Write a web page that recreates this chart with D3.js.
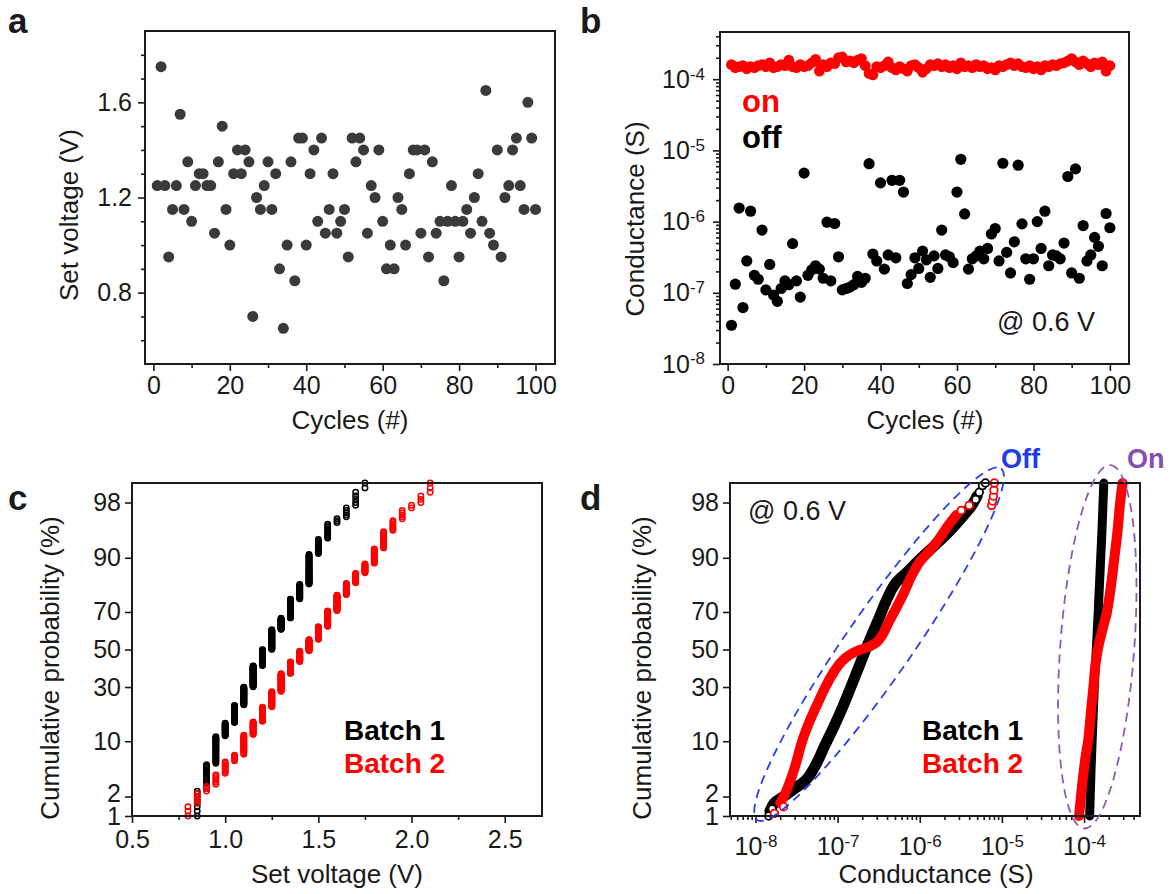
<!DOCTYPE html>
<html>
<head>
<meta charset="utf-8">
<script src="https://d3js.org/d3.v7.min.js"></script>
<style>
  body { margin: 0; background: #fff; }
  text { font-family: "Liberation Sans", Arial, Helvetica, sans-serif; fill: #1a1a1a; }
</style>
</head>
<body>
<div id="svgcontainer"></div>
<script>
// ---- panel a / b : one value per cycle ----
var cycles = d3.range(1, 101);

var setVoltage = [
  1.25, 1.75, 1.25, 0.95, 1.15, 1.25, 1.55, 1.15, 1.35, 1.10,
  1.25, 1.30, 1.30, 1.25, 1.25, 1.05, 1.35, 1.50, 1.15, 1.00,
  1.30, 1.40, 1.30, 1.40, 1.35, 0.70, 1.20, 1.15, 1.25, 1.35,
  1.15, 1.30, 0.90, 0.65, 1.00, 1.35, 0.85, 1.45, 1.45, 1.00,
  1.30, 1.40, 1.10, 1.45, 1.05, 1.15, 1.30, 1.05, 1.10, 1.15,
  0.95, 1.45, 1.35, 1.45, 1.40, 1.05, 1.25, 1.20, 1.40, 1.10,
  0.90, 1.00, 0.90, 1.20, 1.15, 1.00, 1.30, 1.40, 1.40, 1.05,
  1.40, 0.95, 1.35, 1.05, 1.10, 0.85, 1.10, 1.25, 1.10, 0.95,
  1.10, 1.15, 1.05, 1.20, 1.30, 1.10, 1.65, 1.05, 1.00, 1.40,
  0.95, 1.20, 1.25, 1.40, 1.45, 1.25, 1.15, 1.60, 1.45, 1.15];

var offConductance = [
  3.5e-8, 1.32e-7, 1.55e-6, 6.2e-8, 2.8e-7, 1.4e-6, 1.76e-7, 1.55e-7, 7.6e-7, 1.1e-7,
  2.5e-7, 9.3e-8, 7.6e-8, 1.15e-7, 1.47e-7, 1.3e-7, 4.9e-7, 1.47e-7, 8.7e-8, 4.8e-6,
  1.76e-7, 2.1e-7, 2.4e-7, 2.15e-7, 1.6e-7, 9.8e-7, 1.47e-7, 9.4e-7, 3.2e-7, 1.1e-7,
  1.15e-7, 1.2e-7, 1.3e-7, 1.7e-7, 1.4e-7, 1.6e-7, 6.5e-6, 3.5e-7, 2.8e-7, 3.5e-6,
  2.15e-7, 3.4e-7, 3.8e-6, 3.1e-7, 3.8e-6, 2.6e-6, 1.35e-7, 1.8e-7, 3.1e-7, 2.2e-7,
  3.85e-7, 2.9e-7, 1.65e-7, 3.3e-7, 2.2e-7, 7.6e-7, 3.4e-7, 3.2e-7, 2.65e-7, 2.6e-6,
  7.5e-6, 1.28e-6, 2.15e-7, 3.0e-7, 3.3e-7, 3.85e-7, 3.0e-7, 4.2e-7, 6.7e-7, 8.0e-7,
  2.8e-7, 6.6e-6, 3.7e-7, 1.9e-7, 5.2e-7, 6.2e-6, 9.3e-7, 3.0e-7, 1.55e-7, 3.0e-7,
  1.0e-6, 4.2e-7, 1.4e-6, 2.4e-7, 3.4e-7, 3.3e-7, 3.0e-7, 5.0e-7, 4.3e-6, 1.9e-7,
  5.5e-6, 1.6e-7, 8.8e-7, 2.8e-7, 3.4e-7, 6.0e-7, 4.5e-7, 2.4e-7, 1.3e-6, 8.2e-7];

var onConductance = [
  1.60e-4, 1.45e-4, 1.50e-4, 1.55e-4, 1.40e-4, 1.50e-4, 1.45e-4, 1.55e-4, 1.60e-4, 1.50e-4,
  1.70e-4, 1.45e-4, 1.50e-4, 1.60e-4, 1.55e-4, 1.85e-4, 1.50e-4, 1.45e-4, 1.60e-4, 1.50e-4,
  1.55e-4, 1.70e-4, 1.90e-4, 1.30e-4, 1.60e-4, 1.50e-4, 1.70e-4, 1.65e-4, 2.00e-4, 2.05e-4,
  1.75e-4, 1.80e-4, 1.70e-4, 1.85e-4, 1.95e-4, 1.55e-4, 1.20e-4, 1.15e-4, 1.50e-4, 1.45e-4,
  1.55e-4, 1.75e-4, 1.45e-4, 1.35e-4, 1.50e-4, 1.40e-4, 1.30e-4, 1.55e-4, 1.60e-4, 1.45e-4,
  1.25e-4, 1.40e-4, 1.60e-4, 1.55e-4, 1.65e-4, 1.50e-4, 1.60e-4, 1.45e-4, 1.55e-4, 1.40e-4,
  1.70e-4, 1.50e-4, 1.55e-4, 1.45e-4, 1.60e-4, 1.50e-4, 1.55e-4, 1.40e-4, 1.45e-4, 1.35e-4,
  1.55e-4, 1.50e-4, 1.60e-4, 1.70e-4, 1.55e-4, 1.65e-4, 1.50e-4, 1.45e-4, 1.55e-4, 1.40e-4,
  1.50e-4, 1.35e-4, 1.55e-4, 1.50e-4, 1.60e-4, 1.55e-4, 1.65e-4, 1.70e-4, 1.80e-4, 1.95e-4,
  1.75e-4, 1.60e-4, 1.80e-4, 1.65e-4, 1.50e-4, 1.70e-4, 1.60e-4, 1.75e-4, 1.30e-4, 1.55e-4];

// ---- panel c : how many cycles set at each voltage step ----
var voltLevels = [0.80, 0.85, 0.90, 0.95, 1.00, 1.05, 1.10, 1.15, 1.20, 1.25, 1.30, 1.35, 1.40,
                  1.45, 1.50, 1.55, 1.60, 1.65, 1.70, 1.75, 1.80, 1.85, 1.90, 1.95, 2.00, 2.05, 2.10];
var batch1Counts = [0, 12, 15, 29, 20, 33, 41, 55, 45, 55, 30, 45, 30, 45, 15, 11, 3, 5, 5, 6, 0, 0, 0, 0, 0, 0, 0];
var batch2Counts = [7, 4, 3, 6, 9, 6, 23, 20, 27, 34, 45, 32, 30, 32, 35, 40, 36, 23, 17, 14, 18, 15, 7, 5, 2, 3, 7];

// ---- panel d : cumulative curves, [conductance (S), cumulative %] ----
var b1Off = [[1.5e-8, 1.2], [1.7e-8, 1.6], [2.2e-8, 2.0], [3.0e-8, 2.6], [4.2e-8, 3.5], [5.5e-8, 5.5],
  [7.0e-8, 9], [9.0e-8, 14], [1.15e-7, 21], [1.45e-7, 30], [1.8e-7, 40], [2.2e-7, 50], [2.6e-7, 58],
  [3.2e-7, 67], [4.0e-7, 76], [5.0e-7, 82], [7.0e-7, 86], [1.05e-6, 90], [1.6e-6, 93], [2.4e-6, 95.3],
  [3.3e-6, 96.8], [4.3e-6, 97.8], [5.0e-6, 98.4]];
var b2Off = [[2.0e-8, 1.6], [2.3e-8, 2.2], [2.7e-8, 3.5], [3.1e-8, 5.5], [3.7e-8, 10], [4.6e-8, 16],
  [5.8e-8, 23], [7.1e-8, 30], [8.8e-8, 37], [1.1e-7, 43], [1.4e-7, 47], [1.8e-7, 49.5], [2.4e-7, 51.5],
  [3.0e-7, 54], [3.5e-7, 58], [4.2e-7, 65], [5.2e-7, 72], [6.5e-7, 79], [8.0e-7, 85], [1.0e-6, 89],
  [1.3e-6, 91.5], [1.7e-6, 93.8], [2.2e-6, 95.8], [2.8e-6, 97]];
var b1On = [[1.17e-4, 1], [1.22e-4, 5], [1.28e-4, 15], [1.35e-4, 35], [1.41e-4, 50], [1.48e-4, 68],
  [1.56e-4, 85], [1.65e-4, 95], [1.74e-4, 99]];
var b2On = [[8.7e-5, 1], [9.5e-5, 3], [1.05e-4, 7], [1.12e-4, 10], [1.22e-4, 20], [1.30e-4, 30],
  [1.38e-4, 42], [1.50e-4, 52], [1.70e-4, 62], [1.90e-4, 70], [2.10e-4, 80], [2.34e-4, 90],
  [2.55e-4, 95], [2.75e-4, 98], [2.95e-4, 99]];
// single circles visible at the tails
var b1OffDots = [[1.45e-8, 1.0], [1.6e-8, 1.3], [4.8e-6, 98.2], [5.3e-6, 98.6], [5.8e-6, 98.9], [6.3e-6, 99.0]];
var b2OffDots = [[1.7e-8, 1.1], [2.2e-8, 1.4], [3.2e-6, 97.4], [4.0e-6, 97.8], [7.5e-6, 97.8],
  [7.7e-6, 98.1], [7.9e-6, 98.4], [8.0e-6, 98.7], [8.1e-6, 99.0]];
// dashed rings: end points [conductance, %]
var offRing = [[1.05e-8, 0.86], [9.75e-6, 99.43]];
var onRing = [[1.0e-4, 0.62], [2.1e-4, 99.5]];

var probTicks = [1, 2, 10, 30, 50, 70, 90, 98];

var W = 1172, H = 894;
var svg = d3.select("#svgcontainer").append("svg")
  .attr("width", W).attr("height", H);

var boxA = {l: 145, r: 555, t: 31, b: 364};
var boxB = {l: 720, r: 1129, t: 32, b: 364};
var boxC = {l: 132, r: 542, t: 483, b: 816};
var boxD = {l: 730, r: 1140, t: 483, b: 816};

// inverse normal cdf (Acklam)
function probit(p) {
  var a = [-3.969683028665376e+01, 2.209460984245205e+02, -2.759285104469687e+02, 1.383577518672690e+02, -3.066479806614716e+01, 2.506628277459239e+00];
  var b = [-5.447609879822406e+01, 1.615858368580409e+02, -1.556989798598866e+02, 6.680131188771972e+01, -1.328068155288572e+01];
  var c = [-7.784894002430293e-03, -3.223964580411365e-01, -2.400758277161838e+00, -2.549732539343734e+00, 4.374664141464968e+00, 2.938163982698783e+00];
  var d = [7.784695709041462e-03, 3.224671290700398e-01, 2.445134137142996e+00, 3.754408661907416e+00];
  var q, r;
  if (p < 0.02425) {
    q = Math.sqrt(-2 * Math.log(p));
    return (((((c[0]*q+c[1])*q+c[2])*q+c[3])*q+c[4])*q+c[5]) / ((((d[0]*q+d[1])*q+d[2])*q+d[3])*q+1);
  }
  if (p <= 1 - 0.02425) {
    q = p - 0.5; r = q * q;
    return (((((a[0]*r+a[1])*r+a[2])*r+a[3])*r+a[4])*r+a[5])*q / (((((b[0]*r+b[1])*r+b[2])*r+b[3])*r+b[4])*r+1);
  }
  q = Math.sqrt(-2 * Math.log(1 - p));
  return -(((((c[0]*q+c[1])*q+c[2])*q+c[3])*q+c[4])*q+c[5]) / ((((d[0]*q+d[1])*q+d[2])*q+d[3])*q+1);
}

function logMinor(lo, hi) {
  var out = [];
  for (var e = Math.floor(Math.log10(lo)); e <= Math.ceil(Math.log10(hi)); e++) {
    for (var m = 2; m <= 9; m++) {
      var v = m * Math.pow(10, e);
      if (v >= lo && v <= hi) out.push(v);
    }
  }
  return out;
}

function supText(sel) {
  sel.each(function (d) {
    var t = d3.select(this);
    t.text("10");
    t.append("tspan").attr("dy", "-0.48em").attr("font-size", "17px")
      .text(Math.round(Math.log10(d)));
  });
}

function frame(box) {
  svg.append("rect")
    .attr("x", box.l).attr("y", box.t)
    .attr("width", box.r - box.l).attr("height", box.b - box.t)
    .attr("fill", "none").attr("stroke", "#1a1a1a").attr("stroke-width", 2);
}

function styleAxis(s) {
  s.select(".domain").remove();
  s.style("color", "#1a1a1a").attr("font-size", 25);
  s.selectAll("line").attr("stroke-width", 1.6);
}

function xAxis(box, x, major, minor, fmt, pad) {
  var g = svg.append("g").attr("transform", "translate(0," + box.b + ")")
    .call(d3.axisBottom(x).tickValues(minor).tickSize(4).tickFormat(""));
  var m = svg.append("g").attr("transform", "translate(0," + box.b + ")")
    .call(d3.axisBottom(x).tickValues(major).tickSize(7).tickPadding(pad).tickFormat(fmt));
  styleAxis(g); styleAxis(m);
  return m;
}

function yAxis(box, y, major, minor, fmt, pad) {
  var g = svg.append("g").attr("transform", "translate(" + box.l + ",0)")
    .call(d3.axisLeft(y).tickValues(minor).tickSize(4).tickFormat(""));
  var m = svg.append("g").attr("transform", "translate(" + box.l + ",0)")
    .call(d3.axisLeft(y).tickValues(major).tickSize(7).tickPadding(pad).tickFormat(fmt));
  styleAxis(g); styleAxis(m);
  return m;
}

function label(x, y, txt, size, weight, color, anchor, rotate) {
  var t = svg.append("text")
    .attr("x", x).attr("y", y)
    .attr("font-size", size).attr("font-weight", weight || "normal")
    .attr("text-anchor", anchor || "start")
    .text(txt);
  if (color) t.style("fill", color);
  if (rotate) t.attr("transform", "rotate(-90," + x + "," + y + ")");
  return t;
}

// probability axis: "2" sits right on top of "1", lift it a little
function probAxis(box, z) {
  var m = yAxis(box, z, probTicks.map(function (p) { return probit(p / 100); }), [],
    function (d, i) { return probTicks[i]; }, 4);
  m.selectAll(".tick text").filter(function (d, i) { return probTicks[i] === 2; }).attr("dy", "0.2em");
  return m;
}

// ================= panel a =================
var xA = d3.scaleLinear().domain([-2.2, 105.1]).range([boxA.l, boxA.r]);
var yA = d3.scaleLinear().domain([0.5, 1.9]).range([boxA.b, boxA.t]);

xAxis(boxA, xA, [0, 20, 40, 60, 80, 100], [10, 30, 50, 70, 90], d3.format("d"), 5);
yAxis(boxA, yA, [0.8, 1.2, 1.6], [0.6, 0.7, 0.9, 1.0, 1.1, 1.3, 1.4, 1.5, 1.7, 1.8], d3.format(".1f"), 6);

svg.append("g").selectAll("circle")
  .data(setVoltage)
  .join("circle")
  .attr("cx", function (d, i) { return xA(cycles[i]); })
  .attr("cy", function (d) { return yA(d); })
  .attr("r", 5.5)
  .attr("fill", "#3a3a3a");
frame(boxA);

label(350, 429, "Cycles (#)", 26, null, null, "middle");
label(78, 215, "Set voltage (V)", 26, null, null, "middle", true);
label(8, 33, "a", 35, "bold");

// ================= panel b =================
var xB = d3.scaleLinear().domain([-2, 105]).range([boxB.l, boxB.r]);
var yB = d3.scaleLog().domain([1e-8, 4.6e-4]).range([boxB.b, boxB.t]);

xAxis(boxB, xB, [0, 20, 40, 60, 80, 100], [10, 30, 50, 70, 90], d3.format("d"), 5);
var yBm = yAxis(boxB, yB, [1e-8, 1e-7, 1e-6, 1e-5, 1e-4], logMinor(1e-8, 4.6e-4), d3.format(""), 8);
yBm.selectAll(".tick text").call(supText);

var onLine = d3.line()
  .x(function (d, i) { return xB(cycles[i]); })
  .y(function (d) { return yB(d); });
svg.append("path").datum(onConductance)
  .attr("d", onLine).attr("fill", "none")
  .attr("stroke", "#ff0000").attr("stroke-width", 3);
svg.append("g").selectAll("circle")
  .data(onConductance)
  .join("circle")
  .attr("cx", function (d, i) { return xB(cycles[i]); })
  .attr("cy", function (d) { return yB(d); })
  .attr("r", 5.4)
  .attr("fill", "#ff0000");
svg.append("g").selectAll("circle")
  .data(offConductance)
  .join("circle")
  .attr("cx", function (d, i) { return xB(cycles[i]); })
  .attr("cy", function (d) { return yB(d); })
  .attr("r", 5.6)
  .attr("fill", "#000");
frame(boxB);

label(742, 112, "on", 31, "bold", "#ff0000");
label(742, 148, "off", 31, "bold", "#000");
label(997, 331, "@ 0.6 V", 27);
label(925, 429, "Cycles (#)", 26, null, null, "middle");
label(644, 219, "Conductance (S)", 26, null, null, "middle", true);
label(580, 33, "b", 35, "bold");

// ================= panel c =================
var xC = d3.scaleLinear().domain([0.5, 2.7]).range([boxC.l, boxC.r]);
var zC = d3.scaleLinear().domain([probit(0.01), probit(0.99)]).range([boxC.b, boxC.t]);
function yC(pct) { return zC(probit(pct / 100)); }

xAxis(boxC, xC, [0.5, 1.0, 1.5, 2.0, 2.5], [0.75, 1.25, 1.75, 2.25], d3.format(".1f"), 7);
probAxis(boxC, zC);

function cumPoints(levels, counts) {
  var n = d3.sum(counts), pts = [], i = 0;
  levels.forEach(function (v, k) {
    for (var j = 0; j < counts[k]; j++) {
      i++;
      pts.push({v: v, p: 100 * i / (n + 1)});
    }
  });
  return pts.filter(function (d) { return d.p >= 0.99 && d.p <= 99.1; });
}

[[batch1Counts, "#000"], [batch2Counts, "#ff0000"]].forEach(function (s) {
  svg.append("g").selectAll("circle")
    .data(cumPoints(voltLevels, s[0]))
    .join("circle")
    .attr("cx", function (d) { return xC(d.v); })
    .attr("cy", function (d) { return yC(d.p); })
    .attr("r", 2.7)
    .attr("fill", "none")
    .attr("stroke", s[1])
    .attr("stroke-width", 1.5);
});
frame(boxC);

label(344, 740, "Batch 1", 28, "bold", "#000");
label(344, 773, "Batch 2", 28, "bold", "#ff0000");
label(337, 883, "Set voltage (V)", 26, null, null, "middle");
label(59, 668, "Cumulative probability (%)", 26, null, null, "middle", true);
label(8, 510, "c", 35, "bold");

// ================= panel d =================
var xD = d3.scaleLog().domain([4.9e-9, 4.8e-4]).range([boxD.l, boxD.r]);
var zD = d3.scaleLinear().domain([probit(0.01), probit(0.99)]).range([boxD.b, boxD.t]);
function yD(pct) { return zD(probit(pct / 100)); }

var xDm = xAxis(boxD, xD, [1e-8, 1e-7, 1e-6, 1e-5, 1e-4], logMinor(4.9e-9, 4.8e-4), d3.format(""), 14);
xDm.selectAll(".tick text").call(supText);
probAxis(boxD, zD);

// rings
function ring(ends, half, color) {
  var x1 = xD(ends[0][0]), y1 = yD(ends[0][1]);
  var x2 = xD(ends[1][0]), y2 = yD(ends[1][1]);
  var cx = (x1 + x2) / 2, cy = (y1 + y2) / 2;
  var len = Math.hypot(x2 - x1, y2 - y1);
  var ang = Math.atan2(y2 - y1, x2 - x1) * 180 / Math.PI;
  svg.append("ellipse")
    .attr("cx", cx).attr("cy", cy)
    .attr("rx", len / 2).attr("ry", half)
    .attr("transform", "rotate(" + ang + "," + cx + "," + cy + ")")
    .attr("fill", "none").attr("stroke", color)
    .attr("stroke-width", 1.8).attr("stroke-dasharray", "9,6");
}

var curve = d3.line()
  .x(function (d) { return xD(d[0]); })
  .y(function (d) { return yD(d[1]); })
  .curve(d3.curveCatmullRom);

[[b1Off, "#000", 11], [b1On, "#000", 9], [b2Off, "#ff0000", 10], [b2On, "#ff0000", 10]].forEach(function (s) {
  svg.append("path").datum(s[0])
    .attr("d", curve).attr("fill", "none")
    .attr("stroke", s[1]).attr("stroke-width", s[2])
    .attr("stroke-linecap", "round").attr("stroke-linejoin", "round");
});
[[b1OffDots, "#000"], [b2OffDots, "#ff0000"]].forEach(function (s) {
  svg.append("g").selectAll("circle")
    .data(s[0])
    .join("circle")
    .attr("cx", function (d) { return xD(d[0]); })
    .attr("cy", function (d) { return yD(d[1]); })
    .attr("r", 3.8)
    .attr("fill", "#fff")
    .attr("stroke", s[1])
    .attr("stroke-width", 1.8);
});
frame(boxD);
ring(offRing, 33, "#2a3ff0");
ring(onRing, 37, "#8d5ab8");

label(1001, 468, "Off", 27, "bold", "#1f3ce8");
label(1127, 468, "On", 27, "bold", "#8450b0");
label(748, 520, "@ 0.6 V", 27);
label(922, 740, "Batch 1", 28, "bold", "#000");
label(922, 773, "Batch 2", 28, "bold", "#ff0000");
label(936, 883, "Conductance (S)", 26, null, null, "middle");
label(651, 668, "Cumulative probability (%)", 26, null, null, "middle", true);
label(580, 510, "d", 35, "bold");
</script>
</body>
</html>
